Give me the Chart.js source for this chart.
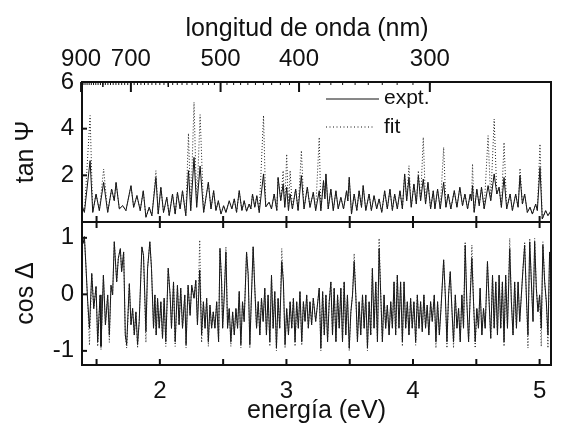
<!DOCTYPE html>
<html><head><meta charset="utf-8">
<script src="https://cdn.jsdelivr.net/npm/chart.js@4.4.0/dist/chart.umd.min.js"></script>
<style>html,body{margin:0;padding:0;background:#fff}canvas{display:block}</style>
</head><body>
<canvas id="c" width="566" height="429"></canvas>
<script>
// ---- data ----
const tanEnergy = [1.390,1.404,1.449,1.470,1.496,1.522,1.556,1.588,1.619,1.640,1.654,1.680,1.706,1.732,1.772,1.793,1.819,1.845,1.869,1.890,1.916,1.937,1.969,1.987,2.008,2.029,2.055,2.074,2.100,2.121,2.139,2.160,2.179,2.205,2.226,2.244,2.270,2.291,2.318,
2.346,2.383,2.404,2.425,2.443,2.462,2.483,2.504,2.522,2.548,2.569,2.588,2.606,2.627,2.648,2.666,2.685,2.706,2.719,2.732,2.750,2.766,2.785,2.819,2.837,2.863,2.882,2.903,2.924,2.934,2.955,2.974,2.987,3.002,3.016,3.029,3.047,3.073,3.092,3.118,3.139,3.165,3.186,3.212,3.231,
3.259,3.272,3.293,3.304,3.312,3.330,3.351,3.370,3.391,3.409,3.430,3.451,3.475,3.485,3.496,3.514,3.535,3.556,3.574,3.593,3.606,3.627,3.653,3.671,3.692,3.713,3.732,3.753,3.776,3.797,3.818,3.837,3.855,3.876,3.897,3.916,3.934,3.950,3.968,3.986,4.007,4.026,4.042,4.060,4.081,4.099,4.118,4.139,4.160,
4.173,4.194,4.215,4.242,4.260,4.278,4.299,4.326,4.347,4.370,4.391,4.410,4.431,4.452,4.462,4.470,4.483,4.504,4.523,4.541,4.562,4.593,4.614,4.641,4.662,4.680,4.698,4.719,4.740,4.767,4.785,4.811,4.830,4.845,4.864,4.882,4.903,4.924,4.943,4.969,4.982,5.003,5.021,5.048,5.066,5.090];

const tanPsiExpt = [0.63,0.41,2.63,0.41,1.20,0.49,1.70,0.41,1.41,0.91,1.70,0.56,0.70,0.49,1.56,0.63,1.13,0.49,1.34,0.20,0.63,0.27,1.91,0.34,1.49,0.41,1.06,0.27,1.20,0.34,1.27,0.56,1.34,0.27,2.20,0.49,2.77,0.63,2.40,
0.41,1.70,0.56,1.34,0.49,0.91,0.34,0.70,0.41,0.91,0.56,0.99,0.41,1.34,0.49,0.91,0.46,0.77,0.56,1.20,0.63,1.13,0.41,2.06,0.65,0.85,0.56,1.20,0.49,1.91,0.91,1.63,0.63,1.49,0.49,1.20,0.56,1.41,0.49,1.99,0.56,1.49,0.63,1.27,0.49,
1.34,0.49,1.77,1.00,2.06,0.56,1.41,0.49,1.34,0.56,1.06,0.56,1.34,0.90,1.91,0.34,1.20,0.49,1.34,0.63,1.56,0.49,1.20,0.49,1.13,0.56,0.99,0.41,1.34,0.56,1.41,0.49,1.20,0.56,1.34,0.56,2.06,0.91,1.91,0.63,1.63,0.77,1.99,0.91,1.84,0.77,1.70,0.56,1.34,
0.56,1.41,0.56,1.70,0.63,1.20,0.56,1.34,0.63,1.49,0.70,1.20,0.56,1.20,0.90,1.56,0.41,1.41,0.70,1.49,0.56,1.56,0.91,2.06,1.20,1.49,0.63,1.91,0.56,1.20,0.49,1.20,0.63,1.99,0.77,1.20,0.41,0.63,0.34,0.77,0.49,2.34,0.13,0.49,0.27,0.49];

const tanPsiFit = [0.63,0.41,4.56,0.41,1.20,0.49,2.27,0.41,1.41,0.91,1.70,0.56,0.70,0.49,1.56,0.63,1.13,0.49,1.34,0.20,0.63,0.27,2.20,0.34,1.49,0.41,1.06,0.27,1.20,0.34,1.27,0.56,1.34,0.27,3.80,0.49,5.13,0.63,4.60,
0.41,1.70,0.56,1.34,0.49,0.91,0.34,0.70,0.41,0.91,0.56,0.99,0.41,1.34,0.49,0.91,0.46,0.77,0.56,1.20,0.63,1.13,0.41,4.56,0.65,0.85,0.56,1.20,0.49,1.91,0.91,2.20,0.63,2.91,0.49,2.20,0.56,1.41,0.49,3.06,0.56,1.49,0.63,1.27,0.49,
3.63,0.49,1.77,1.00,2.06,0.56,1.41,0.49,1.34,0.56,1.06,0.56,1.34,0.90,1.91,0.34,1.20,0.49,1.34,0.63,1.56,0.49,1.20,0.49,1.13,0.56,0.99,0.41,1.34,0.56,1.41,0.49,1.20,0.56,1.34,0.56,2.06,0.91,2.41,0.63,1.63,0.77,2.20,0.91,3.63,0.77,1.70,0.56,1.34,
0.56,1.41,0.56,3.20,0.63,1.20,0.56,1.34,0.63,1.49,0.70,1.20,0.56,1.20,0.90,2.49,0.41,1.41,0.70,1.49,0.56,3.70,0.91,4.41,1.20,1.49,0.63,3.41,0.56,1.20,0.49,1.20,0.63,2.30,0.77,1.20,0.41,0.63,0.34,0.77,0.49,3.34,0.13,0.49,0.27,0.49];

const cosEnergy = [1.394,1.404,1.417,1.430,1.444,1.462,1.478,1.496,1.509,1.528,1.535,1.554,1.570,1.588,1.601,1.614,1.627,1.640,1.659,1.672,1.688,1.698,1.714,1.727,1.738,1.759,1.772,1.785,1.798,1.811,1.824,1.837,1.858,1.871,1.890,1.903,1.921,1.934,1.950,1.961,1.971,1.982,1.995,2.008,2.021,2.034,2.047,2.066,2.081,2.092,2.108,2.121,2.139,2.152,2.165,2.179,2.197,2.207,2.223,2.239,2.252,2.270,2.284,2.297,2.315,
2.330,2.344,2.357,2.370,2.383,2.396,2.409,2.422,2.435,2.449,2.464,2.475,2.488,2.496,2.509,2.522,2.535,2.548,2.561,2.575,2.588,2.601,2.614,2.627,2.640,2.653,2.666,2.685,2.698,2.711,2.724,2.737,2.750,2.764,2.777,2.790,2.803,2.816,2.829,2.842,2.855,2.869,2.882,2.895,2.908,2.921,2.934,2.947,2.963,2.976,2.989,3.002,3.016,3.029,3.042,3.055,3.068,3.081,3.094,3.107,3.121,3.134,3.147,3.160,3.173,3.186,3.199,3.212,3.231,
3.259,3.272,3.286,3.299,3.312,3.325,3.338,3.351,3.364,3.377,3.391,3.404,3.417,3.430,3.443,3.456,3.469,3.482,3.496,3.509,3.522,3.535,3.548,3.561,3.574,3.587,3.601,3.614,3.627,3.640,3.653,3.666,3.679,3.692,3.706,3.719,3.732,3.745,3.758,3.771,3.784,3.797,3.811,3.824,3.837,3.850,3.863,3.876,3.889,3.902,3.916,3.929,3.942,3.955,3.968,3.981,3.994,4.007,4.021,4.034,4.047,4.060,4.073,4.086,4.099,4.112,4.125,4.139,4.152,
4.168,4.181,4.194,4.208,4.221,4.242,4.255,4.268,4.281,4.294,4.307,4.320,4.334,4.347,4.360,4.373,4.386,4.399,4.412,4.425,4.439,4.452,4.465,4.478,4.491,4.504,4.517,4.530,4.544,4.557,4.570,4.588,4.601,4.614,4.628,4.641,4.654,4.667,4.680,4.693,4.706,4.719,4.732,4.746,4.764,4.777,4.790,4.803,4.817,4.830,4.843,4.856,4.869,4.882,4.895,4.908,4.922,4.935,4.948,4.961,4.974,4.987,5.000,5.013,5.026,5.040,5.053,5.066,5.079,5.090];

const cosDeltaExpt = [0.90,1.02,0.46,-0.13,-0.60,0.37,-0.25,0.14,-0.84,-0.01,-0.92,0.34,-0.54,-0.01,-0.72,0.16,-0.01,0.93,0.22,0.64,0.81,0.40,0.75,-0.72,-0.89,0.19,-0.54,-0.25,-0.72,-0.31,-0.89,-0.48,0.84,0.69,-0.66,0.46,0.93,0.46,-0.60,-0.01,-0.72,-0.07,-0.60,-0.13,-0.78,-0.07,-0.84,0.46,-0.01,-0.60,0.22,-0.84,0.16,-0.54,0.11,-0.60,-0.01,-0.89,0.16,-0.37,0.16,-0.07,0.25,-0.54,0.43,
-0.72,-0.13,-0.60,-0.07,-0.84,-0.19,-0.60,-0.31,-0.60,-0.13,-0.84,0.81,0.22,-0.60,-0.01,0.75,-0.60,-0.25,-0.84,-0.31,-0.72,-0.25,-0.60,0.05,-0.89,-0.13,-0.48,0.75,0.34,-0.89,-0.01,0.84,0.11,-0.60,-0.13,-0.72,-0.07,-0.48,0.11,-0.72,-0.01,-0.84,0.34,-0.60,0.05,-0.95,-0.07,-0.60,0.58,0.22,-0.89,-0.25,-0.72,-0.13,-0.60,-0.07,-0.84,-0.13,-0.60,0.05,-0.84,-0.13,-0.48,-0.01,-0.60,-0.13,-0.54,-0.07,-0.48,
0.11,-0.95,0.05,-0.72,-0.01,-0.84,-0.13,0.22,-0.72,0.11,-0.84,-0.01,-0.60,0.11,-0.84,0.22,-0.72,-0.01,-0.95,-0.31,-0.01,0.58,-0.01,-0.84,-0.13,-0.72,-0.01,-0.60,-0.01,-0.95,-0.13,-0.72,0.46,-0.60,0.22,-0.84,0.81,-0.01,-0.84,-0.01,-0.60,-0.19,-0.72,-0.13,-0.60,0.22,-0.72,0.34,-0.60,0.22,-0.84,0.22,-0.60,-0.13,-0.72,-0.07,-0.60,-0.13,-0.84,-0.01,-0.60,-0.13,-0.66,-0.01,-0.60,-0.19,-0.72,-0.13,-0.48,
-0.01,-0.84,-0.13,-0.72,-0.25,0.61,-0.01,-0.84,-0.01,0.40,-0.25,-0.84,-0.01,-0.60,-0.25,-0.84,-0.01,-0.60,0.87,-0.13,-0.84,-0.01,0.64,-0.13,-0.84,-0.25,-0.60,0.11,-0.72,-0.25,-0.60,0.58,-0.13,-0.78,0.34,-0.60,0.22,-0.72,0.34,-0.60,0.22,-0.84,0.34,-0.60,0.81,-0.13,-0.72,0.22,-0.60,0.22,-0.48,-0.01,0.46,0.87,-0.01,-0.72,0.93,0.22,-0.48,0.93,0.11,-0.31,-0.01,-0.60,0.87,0.22,-0.13,-0.72,0.75,0.28];

const cosDeltaFit = [0.90,1.02,0.46,-0.13,-0.90,0.37,-0.25,0.14,-0.92,-0.01,-0.98,0.34,-0.54,-0.01,-0.85,0.16,-0.01,0.93,0.22,0.64,0.81,0.40,0.75,-0.72,-0.95,0.19,-0.54,-0.25,-0.72,-0.31,-0.95,-0.48,0.84,0.69,-0.85,0.46,0.93,0.46,-0.60,-0.01,-0.72,-0.07,-0.60,-0.13,-0.78,-0.07,-0.92,0.46,-0.01,-0.60,0.22,-0.92,0.16,-0.54,0.11,-0.60,-0.01,-0.95,0.16,-0.37,0.16,-0.07,0.25,-0.54,0.96,
-0.85,-0.13,-0.60,-0.07,-0.92,-0.19,-0.60,-0.31,-0.60,-0.13,-0.84,0.81,0.22,-0.60,-0.01,0.84,-0.60,-0.25,-0.92,-0.31,-0.72,-0.25,-0.60,0.05,-0.95,-0.13,-0.48,0.75,0.34,-0.95,-0.01,0.84,0.11,-0.60,-0.13,-0.72,-0.07,-0.48,0.11,-0.72,-0.01,-0.92,0.34,-0.60,0.05,-1.00,-0.07,-0.60,0.81,0.22,-0.95,-0.25,-0.72,-0.13,-0.60,-0.07,-0.92,-0.13,-0.60,0.05,-0.90,-0.13,-0.48,-0.01,-0.60,-0.13,-0.54,-0.07,-0.48,
0.11,-1.00,0.05,-0.72,-0.01,-0.84,-0.13,0.22,-0.72,0.11,-0.84,-0.01,-0.60,0.11,-0.84,0.22,-0.72,-0.01,-1.00,-0.31,-0.01,0.72,-0.01,-0.84,-0.13,-0.72,-0.01,-0.60,-0.01,-1.00,-0.13,-0.72,0.46,-0.60,0.22,-0.84,0.99,-0.01,-0.84,-0.01,-0.60,-0.19,-0.72,-0.13,-0.60,0.22,-0.72,0.34,-0.60,0.22,-0.92,0.22,-0.60,-0.13,-0.72,-0.07,-0.60,-0.13,-0.90,-0.01,-0.60,-0.13,-0.66,-0.01,-0.60,-0.19,-0.72,-0.13,-0.48,
-0.01,-0.95,-0.13,-0.72,-0.25,0.61,-0.01,-0.95,-0.01,0.40,-0.25,-0.95,-0.01,-0.60,-0.25,-0.84,-0.01,-0.60,0.93,-0.13,-0.84,-0.01,0.87,-0.13,-0.95,-0.25,-0.60,0.11,-0.72,-0.25,-0.60,0.58,-0.13,-0.78,0.34,-0.60,0.22,-0.72,0.34,-0.60,0.22,-0.92,0.34,-0.60,0.99,-0.13,-0.72,0.22,-0.60,0.22,-0.48,-0.01,0.46,0.93,-0.01,-0.95,0.99,0.22,-0.48,0.99,0.11,-0.31,-0.01,-0.92,0.93,0.22,-0.13,-0.95,0.75,0.28];

// ---- axis ticks and texts ----
const energyTicks = [1.5,2,2.5,3,3.5,4,4.5,5];
const energyLabels = [2,3,4,5];
const wavelengthLabels = [900,700,500,400,300];
const wavelengthMedium = [800,600];
const tanTicks = [2,4,6];
const cosTicks = [-1,0,1];
const HC = 1239.84; // eV·nm
const topTitle = 'longitud de onda (nm)';

const FONT = "'Liberation Sans', Arial, Helvetica, sans-serif";
Chart.defaults.font.family = FONT;
Chart.defaults.color = '#111';

const toXY = (xs, ys) => xs.map((x, i) => ({x: x, y: ys[i]}));

const framePlugin = {
  id: 'frame',
  afterDraw(chart) {
    const {ctx, chartArea: a, scales} = chart;
    const sx = scales.x, st = scales.yTan, sc = scales.yCos;
    const mid = st.bottom;
    const line = (x1, y1, x2, y2) => { ctx.beginPath(); ctx.moveTo(x1, y1); ctx.lineTo(x2, y2); ctx.stroke(); };
    ctx.save();
    ctx.strokeStyle = '#111';
    ctx.lineWidth = 2;
    ctx.strokeRect(a.left, a.top, a.right - a.left, a.bottom - a.top);
    line(a.left, mid, a.right, mid);
    energyTicks.forEach(v => {
      const p = sx.getPixelForValue(v);
      line(p, a.bottom, p, a.bottom - 6);
      line(p, mid - 6, p, mid + 6);
    });
    wavelengthLabels.forEach(nm => { const p = sx.getPixelForValue(HC / nm); line(p, a.top, p, a.top + 10); });
    ctx.lineWidth = 1.5;
    wavelengthMedium.forEach(nm => { const p = sx.getPixelForValue(HC / nm); line(p, a.top, p, a.top + 5); });
    ctx.lineWidth = 1;
    for (let nm = 300; nm <= 900; nm += 10) {
      const e = HC / nm;
      if (e < sx.min || e > sx.max) continue;
      const p = sx.getPixelForValue(e);
      line(p, a.top, p, a.top + 3);
    }
    ctx.lineWidth = 2;
    tanTicks.forEach(v => { const p = st.getPixelForValue(v); line(a.left, p, a.left + 5, p); });
    cosTicks.forEach(v => { const p = sc.getPixelForValue(v); line(a.left, p, a.left + 5, p); });
    // legend
    const lx = a.left + 244, lx2 = a.left + 297, tx = a.left + 302;
    const ly1 = a.top + 17, ly2 = a.top + 45;
    ctx.lineWidth = 1;
    line(lx, ly1, lx2, ly1);
    ctx.setLineDash([1, 2.5]);
    line(lx, ly2, lx2 - 4, ly2);
    ctx.setLineDash([]);
    ctx.fillStyle = '#111';
    ctx.textAlign = 'left';
    ctx.textBaseline = 'middle';
    ctx.font = '21px ' + FONT;
    ctx.fillText('expt.', tx, ly1 - 1);
    ctx.fillText('fit', tx, ly2);
    // top axis title
    ctx.textAlign = 'center';
    ctx.font = '25px ' + FONT;
    ctx.fillText(topTitle, a.left + 225, 29);
    ctx.restore();
  }
};

const lineStyle = (dotted) => ({
  borderColor: dotted ? '#222' : '#111',
  borderWidth: 1,
  borderDash: dotted ? [1, 2] : [],
  pointRadius: 0,
  tension: 0,
  fill: false,
  xAxisID: 'x'
});

new Chart(document.getElementById('c'), {
  type: 'line',
  data: {
    datasets: [
      Object.assign({label: 'fit', data: toXY(tanEnergy, tanPsiFit), yAxisID: 'yTan'}, lineStyle(true)),
      Object.assign({label: 'expt.', data: toXY(tanEnergy, tanPsiExpt), yAxisID: 'yTan'}, lineStyle(false)),
      Object.assign({label: 'fit', data: toXY(cosEnergy, cosDeltaFit), yAxisID: 'yCos'}, lineStyle(true)),
      Object.assign({label: 'expt.', data: toXY(cosEnergy, cosDeltaExpt), yAxisID: 'yCos'}, lineStyle(false))
    ]
  },
  options: {
    responsive: false,
    animation: false,
    devicePixelRatio: 1,
    layout: {padding: {left: 0, right: 15, top: 0, bottom: 0}},
    plugins: {legend: {display: false}, tooltip: {enabled: false}},
    scales: {
      x: {
        type: 'linear', position: 'bottom', min: 1.385, max: 5.09,
        afterBuildTicks: s => { s.ticks = energyTicks.map(v => ({value: v})); },
        afterFit: s => { s.height = 64; },
        ticks: {callback: v => energyLabels.includes(v) ? String(v) : '', font: {size: 24}, padding: 12, maxRotation: 0, autoSkip: false},
        grid: {display: false, drawTicks: false},
        border: {display: false},
        title: {display: true, text: 'energía (eV)', font: {size: 25}, padding: {top: 0, bottom: 3}}
      },
      xTop: {
        type: 'linear', position: 'top', min: 1.385, max: 5.09,
        afterBuildTicks: s => { s.ticks = wavelengthLabels.map(nm => ({value: HC / nm})); },
        afterFit: s => { s.height = 82; },
        ticks: {callback: (v, i) => String(wavelengthLabels[i]), font: {size: 24}, padding: 8, maxRotation: 0, autoSkip: false},
        grid: {display: false, drawTicks: false},
        border: {display: false},
        title: {display: false}
      },
      yCos: {
        type: 'linear', position: 'left', stack: 'panels', stackWeight: 143, weight: 1,
        min: -1.25, max: 1.28,
        afterBuildTicks: s => { s.ticks = cosTicks.map(v => ({value: v})); },
        afterFit: s => { s.width = 82; },
        ticks: {callback: v => String(v), font: {size: 24}, padding: 8},
        grid: {display: false, drawTicks: false},
        border: {display: false},
        title: {display: true, text: 'cos Δ', font: {size: 25}, padding: {top: 11, bottom: 0}}
      },
      yTan: {
        type: 'linear', position: 'left', stack: 'panels', stackWeight: 140, weight: 2,
        min: 0, max: 6,
        afterBuildTicks: s => { s.ticks = tanTicks.map(v => ({value: v})); },
        afterFit: s => { s.width = 82; },
        ticks: {callback: v => String(v), font: {size: 24}, padding: 8},
        grid: {display: false, drawTicks: false},
        border: {display: false},
        title: {display: true, text: 'tan Ψ', font: {size: 25}, padding: {top: 11, bottom: 0}}
      }
    }
  },
  plugins: [framePlugin]
});
</script>
</body></html>
